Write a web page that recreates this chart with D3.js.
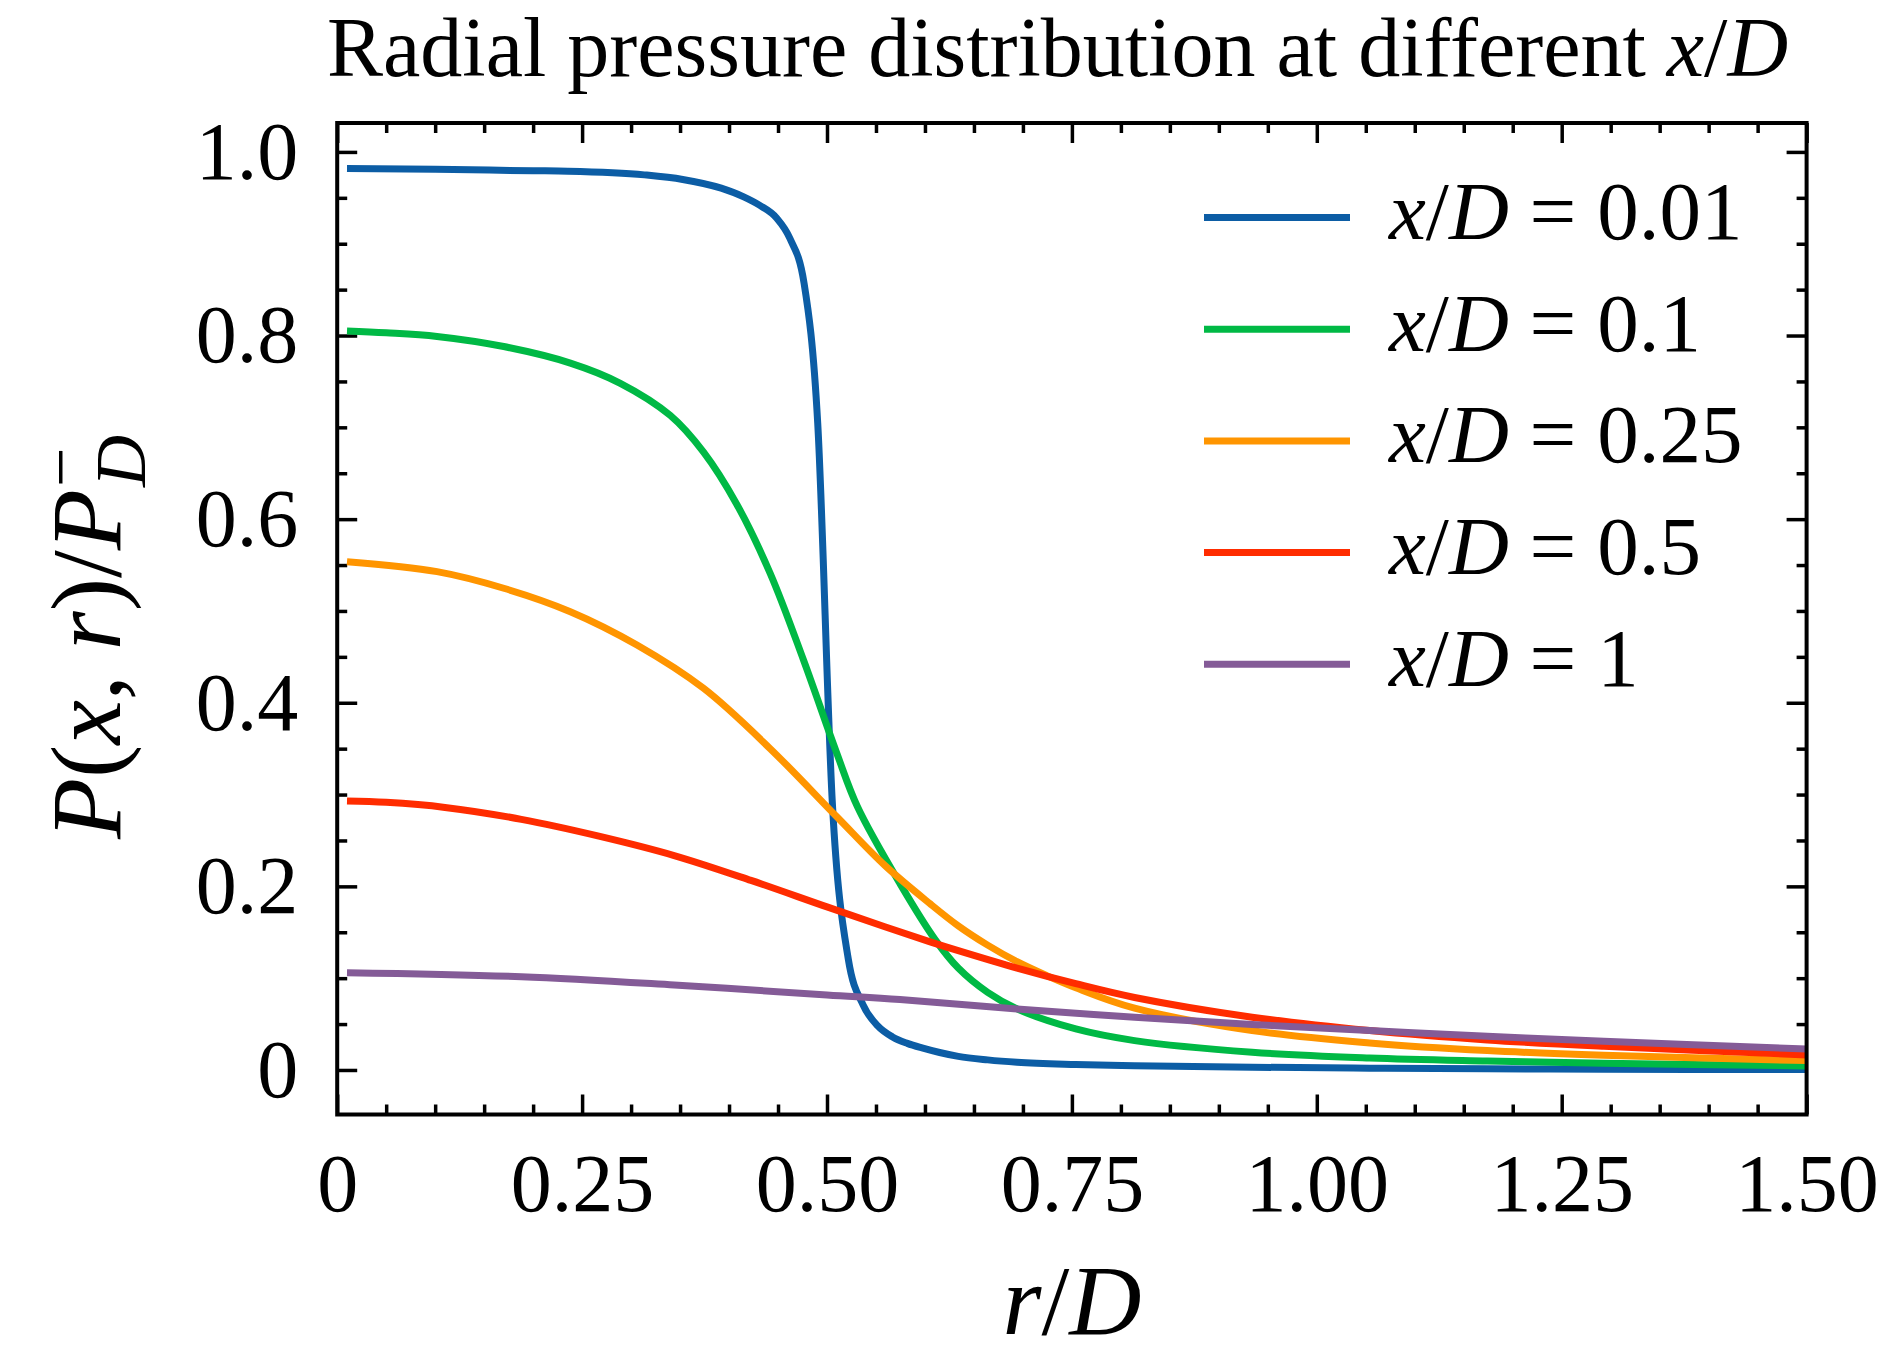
<!DOCTYPE html>
<html>
<head>
<meta charset="utf-8">
<script src="https://cdn.jsdelivr.net/npm/d3@7"></script>
<style>
  body { margin: 0; background: #fff; }
  text { font-family: "Liberation Serif", "Times New Roman", serif; fill: #000; }
</style>
</head>
<body>
<svg width="1878" height="1364"></svg>
<script>
// values: [r/D, P/P_D-]
var blueData = [[0.01,0.982],[0.1,0.981],[0.2,0.9795],[0.2355,0.979],[0.3136,0.975],[0.3527,0.970],
  [0.392,0.9605],[0.415,0.951],[0.431,0.942],[0.4485,0.928],[0.462,0.906],[0.4766,0.857],
  [0.4905,0.705],[0.5055,0.29],[0.5217,0.121],[0.5368,0.071],[0.5518,0.048],[0.5669,0.036],
  [0.582,0.029],[0.597,0.024],[0.615,0.019],[0.634,0.0148],[0.664,0.011],[0.694,0.0084],
  [0.754,0.006],[0.814,0.0047],[0.934,0.003],[1.054,0.002],[1.174,0.0012],[1.293,0.0008],[1.5,0.0004]];
var greenData = [[0.01,0.805],[0.05,0.803],[0.1019,0.799],[0.170,0.788],[0.238,0.770],[0.289,0.748],
  [0.340,0.713],[0.374,0.673],[0.408,0.616],[0.442,0.541],[0.476,0.4466],[0.510,0.345],[0.531,0.287],
  [0.5745,0.203],[0.6104,0.142],[0.634,0.111],[0.664,0.0845],[0.694,0.0665],[0.754,0.0447],
  [0.814,0.032],[0.934,0.0193],[1.054,0.0131],[1.174,0.0098],[1.293,0.0073],[1.5,0.0044]];
var orangeData = [[0.01,0.5537],[0.1019,0.5428],[0.170,0.5247],[0.238,0.4992],[0.306,0.4629],
  [0.374,0.4157],[0.442,0.350],[0.510,0.2758],[0.559,0.2228],[0.6053,0.181],[0.634,0.157],
  [0.664,0.136],[0.694,0.118],[0.724,0.103],[0.754,0.0895],[0.814,0.0673],[0.934,0.0429],
  [1.054,0.0295],[1.174,0.0211],[1.293,0.016],[1.5,0.0102]];
var redData = [[0.01,0.293],[0.05,0.2915],[0.11,0.286],[0.188,0.273],[0.266,0.255],[0.344,0.2336],
  [0.4224,0.2065],[0.5,0.1776],[0.559,0.156],[0.6053,0.1396],[0.634,0.130],[0.694,0.111],[0.754,0.094],
  [0.814,0.079],[0.934,0.0575],[1.054,0.0429],[1.174,0.0327],[1.293,0.0258],[1.5,0.0164]];
var purpleData = [[0.01,0.106],[0.188,0.1016],[0.344,0.0926],[0.5,0.0817],[0.5745,0.0767],[0.694,0.0665],
  [0.814,0.0575],[0.934,0.0495],[1.054,0.0429],[1.174,0.0367],[1.293,0.0313],[1.5,0.0229]];

var seriesLabels = ['0.01', '0.1', '0.25', '0.5', '1'];
var seriesColors = ['#0C5DA5', '#00B945', '#FF9500', '#FF2C00', '#845B97'];
var allSeries = [blueData, greenData, orangeData, redData, purpleData];

var xMajor = [0, 0.25, 0.5, 0.75, 1.0, 1.25, 1.5];
var yMajor = [0, 0.2, 0.4, 0.6, 0.8, 1.0];

var svg = d3.select('svg');
var plotLeft = 337.2, plotRight = 1806.6, plotTop = 123, plotBottom = 1114.5;

var x = d3.scaleLinear().domain([0, 1.5]).range([plotLeft, plotRight]);
var y = d3.scaleLinear().domain([-0.0485, 1.0315]).range([plotBottom, plotTop]);

var xMinor = d3.range(0, 1.5001, 0.05).filter(v => xMajor.every(m => Math.abs(m - v) > 1e-6));
var yMinor = d3.range(0, 1.0316, 0.05).filter(v => yMajor.every(m => Math.abs(m - v) > 1e-6));

function styleAxis(g) {
  g.select('.domain').remove();
  g.selectAll('line').attr('stroke', '#000').attr('stroke-width', 3.5);
  g.selectAll('text').attr('font-size', 82).attr('font-family', '"Liberation Serif", serif');
}

// major ticks with labels
svg.append('g').attr('transform', `translate(0,${plotBottom})`)
  .call(d3.axisBottom(x).tickValues(xMajor).tickSizeInner(-20).tickSizeOuter(0).tickPadding(38)
    .tickFormat(d => d === 0 ? '0' : d.toFixed(2)))
  .call(styleAxis);
svg.append('g').attr('transform', `translate(${plotLeft},0)`)
  .call(d3.axisLeft(y).tickValues(yMajor).tickSizeInner(-20).tickSizeOuter(0).tickPadding(39)
    .tickFormat(d => d === 0 ? '0' : d.toFixed(1)))
  .call(styleAxis);
// mirrored ticks
svg.append('g').attr('transform', `translate(0,${plotTop})`)
  .call(d3.axisTop(x).tickValues(xMajor).tickSizeInner(-20).tickSizeOuter(0).tickFormat(''))
  .call(styleAxis);
svg.append('g').attr('transform', `translate(${plotRight},0)`)
  .call(d3.axisRight(y).tickValues(yMajor).tickSizeInner(-20).tickSizeOuter(0).tickFormat(''))
  .call(styleAxis);
// minor ticks
svg.append('g').attr('transform', `translate(0,${plotBottom})`)
  .call(d3.axisBottom(x).tickValues(xMinor).tickSizeInner(-10).tickSizeOuter(0).tickFormat(''))
  .call(styleAxis);
svg.append('g').attr('transform', `translate(0,${plotTop})`)
  .call(d3.axisTop(x).tickValues(xMinor).tickSizeInner(-10).tickSizeOuter(0).tickFormat(''))
  .call(styleAxis);
svg.append('g').attr('transform', `translate(${plotLeft},0)`)
  .call(d3.axisLeft(y).tickValues(yMinor).tickSizeInner(-10).tickSizeOuter(0).tickFormat(''))
  .call(styleAxis);
svg.append('g').attr('transform', `translate(${plotRight},0)`)
  .call(d3.axisRight(y).tickValues(yMinor).tickSizeInner(-10).tickSizeOuter(0).tickFormat(''))
  .call(styleAxis);

// curves
svg.append('clipPath').attr('id', 'plotClip')
  .append('rect').attr('x', plotLeft).attr('y', plotTop)
  .attr('width', plotRight - plotLeft).attr('height', plotBottom - plotTop);

// the 0.01 curve drops almost vertically, so keep it monotone; the others get a softer spline
var sharpLine = d3.line().x(d => x(d[0])).y(d => y(d[1])).curve(d3.curveMonotoneX);
var smoothLine = d3.line().x(d => x(d[0])).y(d => y(d[1])).curve(d3.curveCatmullRom.alpha(0.5));

allSeries.forEach((data, i) => {
  svg.append('path')
    .attr('d', (i === 0 ? sharpLine : smoothLine)(data))
    .attr('fill', 'none')
    .attr('stroke', seriesColors[i])
    .attr('stroke-width', 7)
    .attr('stroke-linejoin', 'round')
    .attr('clip-path', 'url(#plotClip)');
});

// frame
svg.append('rect')
  .attr('x', plotLeft).attr('y', plotTop)
  .attr('width', plotRight - plotLeft).attr('height', plotBottom - plotTop)
  .attr('fill', 'none').attr('stroke', '#000').attr('stroke-width', 4);

// legend
var legend = svg.append('g');
seriesLabels.forEach((lab, i) => {
  var ly = 217.5 + i * 111.7;
  legend.append('line')
    .attr('x1', 1204).attr('x2', 1350).attr('y1', ly).attr('y2', ly)
    .attr('stroke', seriesColors[i]).attr('stroke-width', 7);
  var t = legend.append('text').attr('x', 1389).attr('y', ly + 21.5).attr('font-size', 83);
  t.append('tspan').attr('font-style', 'italic').text('x');
  t.append('tspan').text('/');
  t.append('tspan').attr('font-style', 'italic').text('D');
  t.append('tspan').text(' = ' + lab);
});

// title
var title = svg.append('text').attr('x', 327).attr('y', 76).attr('font-size', 84);
title.append('tspan').text('Radial pressure distribution at different ');
title.append('tspan').attr('font-style', 'italic').text('x');
title.append('tspan').text('/');
title.append('tspan').attr('font-style', 'italic').text('D');

// x label
var xl = svg.append('text').attr('x', 1072).attr('y', 1334).attr('font-size', 100).attr('text-anchor', 'middle');
xl.append('tspan').attr('font-style', 'italic').text('r');
xl.append('tspan').text('/');
xl.append('tspan').attr('font-style', 'italic').text('D');

// y label
var yg = svg.append('g').attr('transform', 'translate(120,839) rotate(-90)');
var yl = yg.append('text').attr('x', 0).attr('y', 0).attr('font-size', 100);
yl.append('tspan').attr('font-style', 'italic').text('P');
yl.append('tspan').text('(');
yl.append('tspan').attr('font-style', 'italic').text('x');
yl.append('tspan').text(', ');
yl.append('tspan').attr('font-style', 'italic').text('r');
yl.append('tspan').text(')/');
yl.append('tspan').attr('font-style', 'italic').text('P');
var mainLen = yl.node().getComputedTextLength();
yg.append('text').attr('x', mainLen + 2).attr('y', 25).attr('font-size', 72)
  .attr('font-style', 'italic').text('D');
yg.append('text').attr('x', mainLen + 2).attr('y', -36).attr('font-size', 70).text('\u2212');
</script>
</body>
</html>
